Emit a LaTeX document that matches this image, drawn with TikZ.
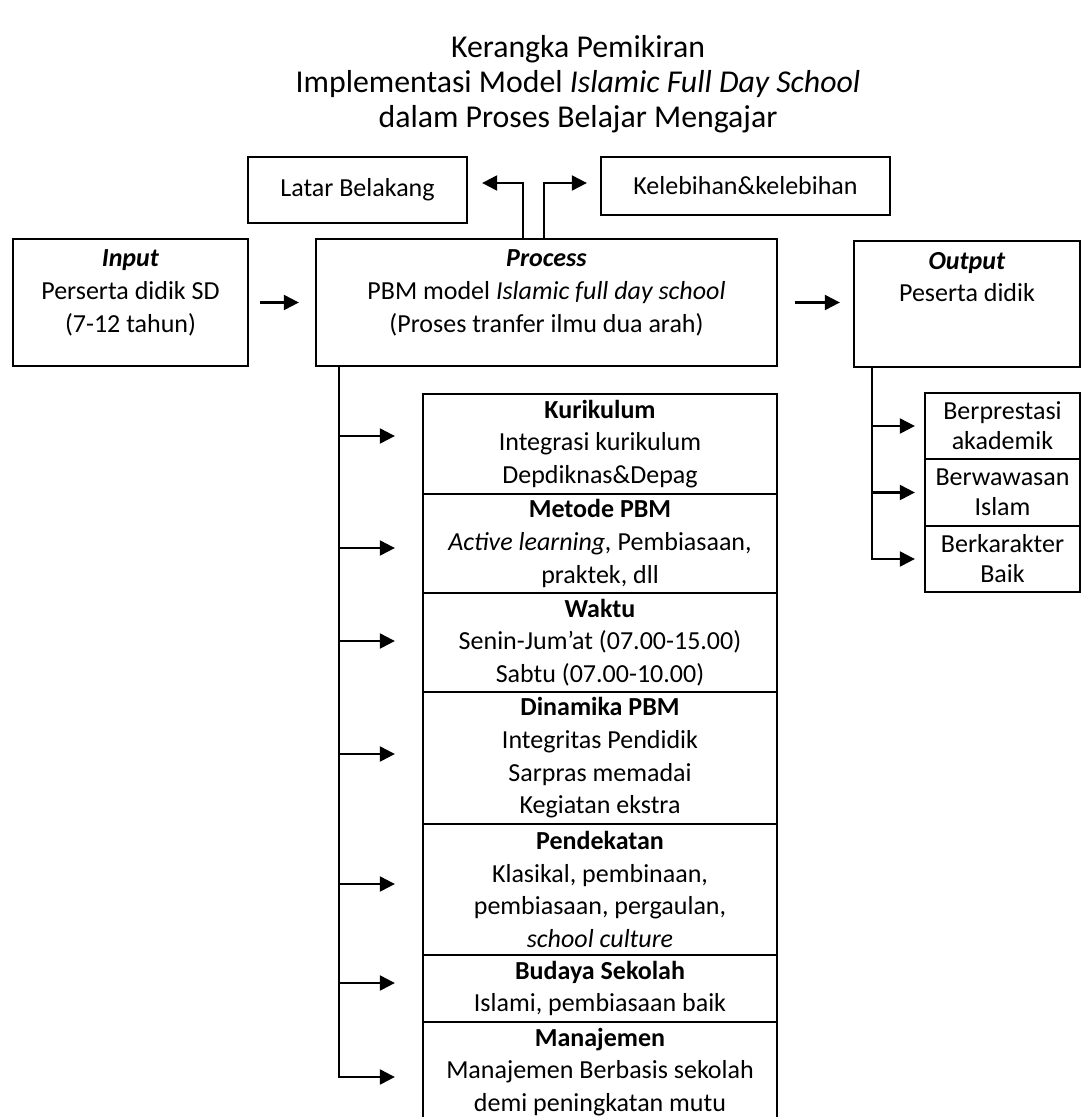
\documentclass[tikz,border=0pt]{standalone}
\usepackage{fontspec}
\setmainfont{Carlito}
\usetikzlibrary{arrows.meta,positioning}

\begin{document}
\begin{tikzpicture}[x=1pt,y=-1pt,
  box/.style={draw=black,line width=2.3pt,inner sep=0pt,align=center,font=\fontsize{26}{32.6}\selectfont},
  smallbox/.style={box,minimum width=155pt,minimum height=66.5pt,font=\fontsize{26}{30}\selectfont},
  colbox/.style={box,minimum width=354pt},
  toptxt/.style={inner sep=0pt,align=center,anchor=north,font=\fontsize{26}{32.6}\selectfont},
  judul/.style={inner sep=0pt,align=center,font=\fontsize{31.8}{35}\selectfont},
  arr/.style={-{Triangle[length=15pt,width=15pt]},line width=2.2pt}
]
\useasboundingbox (0,0) rectangle (1082,1117);

% judul
\node[judul] (title) at (578,84) {Kerangka Pemikiran\\Implementasi Model \textit{Islamic Full Day School}\\dalam Proses Belajar Mengajar};

% baris atas
\node[box,minimum width=219pt,minimum height=66pt] (latar) at (357.5,190) {Latar Belakang};
\node[box,minimum width=289pt,minimum height=58pt] (lebih) at (745.5,186) {Kelebihan\&kelebihan};

% input - process - output
\node[box,minimum width=235pt,minimum height=127pt] (input) at (130.5,302.5) {};
\node[toptxt] (inputtxt) at ([yshift=-12pt]input.north) {\textbf{\textit{Input}}\\Perserta didik SD\\(7-12 tahun)};
\node[box,minimum width=461pt,minimum height=127pt] (process) at (546.5,302.5) {};
\node[toptxt] (processtxt) at ([yshift=-12pt]process.north) {\textbf{\textit{Process}}\\PBM model \textit{Islamic full day school}\\(Proses tranfer ilmu dua arah)};
\node[box,minimum width=226pt,minimum height=126pt] (output) at (967,304) {};
\node[toptxt] (outputtxt) at ([yshift=-12pt]output.north) {\textbf{\textit{Output}}\\Peserta didik};

% komponen PBM
\node[colbox,minimum height=100pt] (kur) at (600,444) {\textbf{Kurikulum}\\Integrasi kurikulum\\Depdiknas\&Depag};
\node[colbox,minimum height=99pt] (met) at (600,543.5) {\textbf{Metode PBM}\\\textit{Active learning,} Pembiasaan,\\praktek, dll};
\node[colbox,minimum height=99pt] (wak) at (600,642.5) {\textbf{Waktu}\\Senin-Jum’at (07.00-15.00)\\Sabtu (07.00-10.00)};
\node[colbox,minimum height=132pt] (din) at (600,758) {\textbf{Dinamika PBM}\\Integritas Pendidik\\Sarpras memadai\\Kegiatan ekstra};
\node[colbox,minimum height=131pt] (pen) at (600,889.5) {\textbf{Pendekatan}\\Klasikal, pembinaan,\\pembiasaan, pergaulan,\\\textit{school culture}};
\node[colbox,minimum height=67pt] (bud) at (600,988.5) {\textbf{Budaya Sekolah}\\Islami, pembiasaan baik};
\node[colbox,minimum height=100pt] (man) at (600,1072) {\textbf{Manajemen}\\Manajemen Berbasis sekolah\\demi peningkatan mutu};

% hasil
\node[smallbox] (pres) at (1002.5,426) {Berprestasi\\akademik};
\node[smallbox] (wawas) at (1002.5,492.5) {Berwawasan\\Islam};
\node[smallbox] (karak) at (1002.5,559) {Berkarakter\\Baik};

% panah atas
\coordinate (split) at (533,183);
\draw[arr,shorten >=14pt] ([xshift=-23.5pt]process.north) |- (latar.east |- split);
\draw[arr,shorten >=13pt] ([xshift=-2.5pt]process.north) |- (lebih.west |- split);

% panah utama
\draw[arr,shorten <=11pt,shorten >=16pt] (input) -- (process);
\draw[arr,shorten <=17pt,shorten >=13pt] (process.east) -- (process.east -| output.west);

% cabang process
\coordinate (ptrunk) at (339,367);
\draw[arr,shorten >=27pt,transform canvas={yshift=8pt}] (ptrunk |- kur.west) -- (kur.west);
\draw[arr,shorten >=27pt,transform canvas={yshift=-4.5pt}] (ptrunk |- met.west) -- (met.west);
\draw[arr,shorten >=27pt,transform canvas={yshift=1.5pt}] (ptrunk |- wak.west) -- (wak.west);
\draw[arr,shorten >=27pt,transform canvas={yshift=4pt}] (ptrunk |- din.west) -- (din.west);
\draw[arr,shorten >=27pt,transform canvas={yshift=5.5pt}] (ptrunk |- pen.west) -- (pen.west);
\draw[arr,shorten >=27pt,transform canvas={yshift=5.5pt}] (ptrunk |- bud.west) -- (bud.west);
\draw[arr,shorten >=27pt] (ptrunk) |- ([yshift=-5pt]man.west);

% cabang output
\coordinate (otrunk) at (872,368);
\draw[arr,shorten >=9pt] (otrunk |- pres.west) -- (pres.west);
\draw[arr,shorten >=9pt] (otrunk |- wawas.west) -- (wawas.west);
\draw[arr,shorten >=9pt] (otrunk) |- (karak.west);
\end{tikzpicture}
\end{document}
